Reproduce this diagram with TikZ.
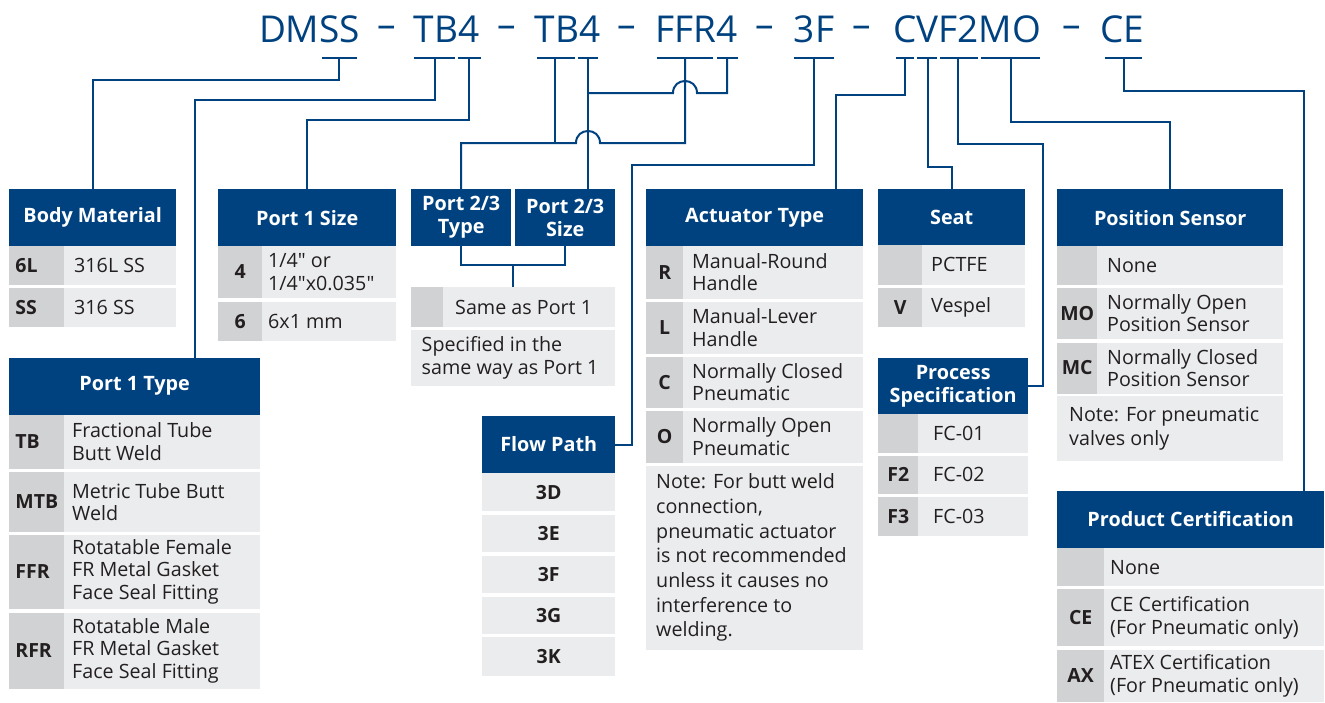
\documentclass[tikz,border=0pt]{standalone}
\usepackage{fontspec}
\setmainfont{Open Sans}[Ligatures=TeXOff]
\definecolor{pblue}{HTML}{00427F}
\definecolor{cgray}{HTML}{D1D2D4}
\definecolor{lgray}{HTML}{EBECEE}
\definecolor{tdark}{HTML}{231F20}
\newcommand\ttlf{\fontsize{37}{40}\selectfont}
\newcommand\hdrf{\bfseries\fontsize{19.8}{23}\selectfont}
\newcommand\codef{\bfseries\fontsize{19.5}{22}\selectfont}
\newcommand\descf{\fontsize{19.7}{22.5}\selectfont}
\newcommand\notef{\fontsize{19.7}{24.7}\selectfont}
\newcommand\qt{\symbol{34}}
\tikzset{
  hdr/.style={fill=pblue, text=white, anchor=north west, inner sep=0pt, align=center, font=\hdrf},
  ccell/.style={fill=cgray, anchor=north west, inner sep=0pt},
  dcell/.style={fill=lgray, anchor=north west, inner sep=0pt},
  codetxt/.style={text=tdark, inner sep=0pt, font=\codef},
  codepos/.style={},
  desctxt/.style={text=tdark, inner sep=0pt, font=\descf, align=left, anchor=west},
  conn/.style={draw=pblue, line width=2pt},
  uline/.style={draw=pblue, line width=2.4pt},
  ttl/.style={text=pblue, anchor=base, inner sep=0pt, font=\ttlf},
}
% name, x, y, total width, code width, height, pad, code, description
\newcommand\trow[9]{%
  \pgfmathsetmacro\rdx{#2+#5}%
  \pgfmathsetmacro\rdw{#4-#5}%
  \node[ccell, minimum width=#5pt, minimum height=#6pt] (#1c) at (#2,#3) {};
  \node[dcell, minimum width=\rdw pt, minimum height=#6pt] (#1d) at (\rdx,#3) {};
  \node[codetxt, codepos] (#1ct) at (#1c.center) {#8};
  \node[desctxt] (#1dt) at ([xshift=#7pt]#1d.west) {#9};
}
\begin{document}
\begin{tikzpicture}[x=1pt, y=-1pt]
\fill[white] (0,0) rectangle (1325,702);
\useasboundingbox (0,0) rectangle (1325,702);

% ---------- title ----------
\node[ttl] (tDMSS) at (309.5,42.5) {DMSS};
\node[ttl] (d1) at (386.5,37.5) {–};
\node[ttl] (tTB4a) at (446.5,42.5) {TB4};
\node[ttl] (d2) at (506.5,37.5) {–};
\node[ttl] (tTB4b) at (567.5,42.5) {TB4};
\node[ttl] (d3) at (626.5,37.5) {–};
\node[ttl] (tFFR4) at (696.5,42.5) {FFR4};
\node[ttl] (d4) at (765,37.5) {–};
\node[ttl] (t3F) at (814,42.5) {3F};
\node[ttl] (d5) at (861.5,37.5) {–};
\node[ttl] (tCVF) at (967,42.5) {CVF2MO};
\node[ttl] (d6) at (1071.5,37.5) {–};
\node[ttl] (tCE) at (1122,42.5) {CE};

% underlines
\draw[uline] (322,58) -- (357,58);
\draw[uline] (414,58) -- (455,58);
\draw[uline] (458,58) -- (481,58);
\draw[uline] (537,58) -- (575,58);
\draw[uline] (578,58) -- (598,58);
\draw[uline] (657,58) -- (713,58);
\draw[uline] (717,58) -- (738,58);
\draw[uline] (794,58) -- (834,58);
\draw[uline] (896,58) -- (914,58);
\draw[uline] (917,58) -- (937,58);
\draw[uline] (940,58) -- (977.5,58);
\draw[uline] (980.5,58) -- (1040,58);
\draw[uline] (1105,58) -- (1142,58);

\coordinate (uDMSS) at (339,58);
\coordinate (uTB1) at (435,58);
\coordinate (u41) at (469,58);
\coordinate (uTB2) at (555,58);
\coordinate (u42) at (588,58);
\coordinate (uFFR) at (685,58);
\coordinate (u43) at (727,58);
\coordinate (u3F) at (814,58);
\coordinate (uC) at (905,58);
\coordinate (uV) at (927.5,58);
\coordinate (uF2) at (958,58);
\coordinate (uMO) at (1011,58);
\coordinate (uCE) at (1124,58);

% ---------- Body Material ----------
\node[hdr, minimum width=167pt, minimum height=57pt] (hBody) at (9,189) {Body Material};
\begin{scope}[codepos/.style={anchor=west, xshift=-21.5pt}]
\trow{bm1}{9}{246}{167}{55}{38.3}{10}{6L}{316L SS}
\trow{bm2}{9}{287.3}{167}{55}{39.4}{10}{SS}{316 SS}
\end{scope}

% ---------- Port 1 Size ----------
\node[hdr, minimum width=178pt, minimum height=57pt] (hP1S) at (218,189) {Port 1 Size};
\trow{ps1}{218}{246}{178}{44}{51.3}{6}{4}{1/4\qt{} or\\1/4\qt x0.035\qt}
\trow{ps2}{218}{301.3}{178}{44}{39.4}{6}{6}{6x1 mm}

% ---------- Port 1 Type ----------
\node[hdr, minimum width=251pt, minimum height=56.6pt] (hP1T) at (9,357.7) {Port 1 Type};
\begin{scope}[codepos/.style={anchor=west, xshift=-21.5pt}]
\trow{pt1}{9}{414.3}{251}{55}{54}{8}{TB}{Fractional Tube\\Butt Weld}
\trow{pt2}{9}{471.7}{251}{55}{60}{8}{MTB}{Metric Tube Butt\\Weld}
\trow{pt3}{9}{534.3}{251}{55}{74.7}{8}{FFR}{Rotatable Female\\FR Metal Gasket\\Face Seal Fitting}
\trow{pt4}{9}{612.3}{251}{55}{76.7}{8}{RFR}{Rotatable Male\\FR Metal Gasket\\Face Seal Fitting}
\end{scope}

% ---------- Port 2/3 ----------
\node[hdr, minimum width=100pt, minimum height=57pt] (hP23T) at (411,189) {Port 2/3\\Type};
\node[hdr, minimum width=100pt, minimum height=57pt] (hP23S) at (515,189) {Port 2/3\\Size};
\trow{pq1}{411}{287}{204}{32}{39.7}{12}{}{Same as Port 1}
\node[dcell, minimum width=204pt, minimum height=55.7pt] (pq2) at (411,330) {};
\node[desctxt] (pq2t) at ([xshift=10.5pt]pq2.west) {Specified in the\\same way as Port 1};

% ---------- Actuator Type ----------
\node[hdr, minimum width=217pt, minimum height=57pt] (hAct) at (646,189) {Actuator Type};
\trow{ac1}{646}{246}{217}{37}{52.3}{9}{R}{Manual-Round\\Handle}
\trow{ac2}{646}{302}{217}{37}{51.3}{9}{L}{Manual-Lever\\Handle}
\trow{ac3}{646}{356.7}{217}{37}{50.6}{9}{C}{Normally Closed\\Pneumatic}
\trow{ac4}{646}{411}{217}{37}{51.3}{9}{O}{Normally Open\\Pneumatic}
\node[dcell, minimum width=217pt, minimum height=183.6pt] (acn) at (646,465.7) {};
\node[desctxt, font=\notef] (acnt) at ([xshift=10pt]acn.west) {Note: For butt weld\\connection,\\pneumatic actuator\\is not recommended\\unless it causes no\\interference to\\welding.};

% ---------- Flow Path ----------
\node[hdr, minimum width=133pt, minimum height=56.7pt] (hFP) at (482,416) {Flow Path};
\node[dcell, minimum width=133pt, minimum height=38pt, font=\codef, text=tdark] (fp1) at (482,473) {3D};
\node[dcell, minimum width=133pt, minimum height=37pt, font=\codef, text=tdark] (fp2) at (482,515) {3E};
\node[dcell, minimum width=133pt, minimum height=37pt, font=\codef, text=tdark] (fp3) at (482,555.5) {3F};
\node[dcell, minimum width=133pt, minimum height=37pt, font=\codef, text=tdark] (fp4) at (482,596.5) {3G};
\node[dcell, minimum width=133pt, minimum height=39pt, font=\codef, text=tdark] (fp5) at (482,637) {3K};

% ---------- Seat ----------
\node[hdr, minimum width=147pt, minimum height=56pt] (hSeat) at (878,189) {Seat};
\trow{se1}{878}{245}{147}{44}{39.3}{9}{}{PCTFE}
\trow{se2}{878}{287.3}{147}{44}{39.4}{9}{V}{Vespel}

% ---------- Process Specification ----------
\node[hdr, minimum width=150pt, minimum height=56.7pt] (hPS) at (878,357.3) {Process\\Specification};
\trow{pr1}{878}{414}{150}{40}{38.7}{15}{}{FC-01}
\trow{pr2}{878}{456}{150}{40}{37.3}{15}{F2}{FC-02}
\trow{pr3}{878}{496.7}{150}{40}{39}{15}{F3}{FC-03}

% ---------- Position Sensor ----------
\node[hdr, minimum width=226pt, minimum height=57pt] (hPos) at (1057,189) {Position Sensor};
\trow{po1}{1057}{246}{226}{40}{38.3}{10}{}{None}
\trow{po2}{1057}{287.3}{226}{40}{51.4}{10}{MO}{Normally Open\\Position Sensor}
\trow{po3}{1057}{342.3}{226}{40}{51}{10}{MC}{Normally Closed\\Position Sensor}
\node[dcell, minimum width=226pt, minimum height=64.7pt] (pon) at (1057,396) {};
\node[desctxt, font=\notef] (pont) at ([xshift=12pt]pon.west) {Note: For pneumatic\\valves only};

% ---------- Product Certification ----------
\node[hdr, minimum width=267pt, minimum height=57pt] (hCert) at (1057,490.7) {Product Certification};
\trow{pc1}{1057}{548}{267}{47}{38}{6}{}{None}
\trow{pc2}{1057}{589}{267}{47}{57}{6}{CE}{CE Certification\\(For Pneumatic only)}
\trow{pc3}{1057}{649.3}{267}{47}{52.7}{6}{AX}{ATEX Certification\\(For Pneumatic only)}

% ---------- connectors ----------
\draw[conn] (uDMSS) -- (339,80) -| (hBody.north);
\draw[conn] (uTB1) -- (435,100) -| (hP1T.north -| 195,0);
\draw[conn] (u41) -- (469,120) -| (hP1S.north);
\draw[conn] (uFFR) -- (685,143) -- (600,143) .. controls (600,127) and (576,127) .. (576,143) -| (hP23T.north);
\draw[conn] (uTB2) -- (555,143);
\draw[conn] (u42) -- (hP23S.north -| u42);
\draw[conn] (u43) -- (727,93) -- (697,93) .. controls (697,77) and (673,77) .. (673,93) -- (588,93);
\draw[conn] (u3F) |- (632,165) |- (hFP.east);
\draw[conn] (uC) |- (836,95) -- (hAct.north -| 836,0);
\draw[conn] (uV) |- (hSeat.north |- 0,167) -- (hSeat.north);
\draw[conn] (uF2) |- (1043,144) |- (hPS.east);
\draw[conn] (uMO) |- (hPos.north |- 0,122) -- (hPos.north);
\draw[conn] (uCE) |- (1304,91) -- (hCert.north -| 1304,0);
% port 2/3 bracket
\draw[conn] (hP23T.south) |- (hP23S.south |- 0,265) -- (hP23S.south);
\draw[conn] (513,265) -- (pq1d.north -| 513,0);
\end{tikzpicture}
\end{document}
